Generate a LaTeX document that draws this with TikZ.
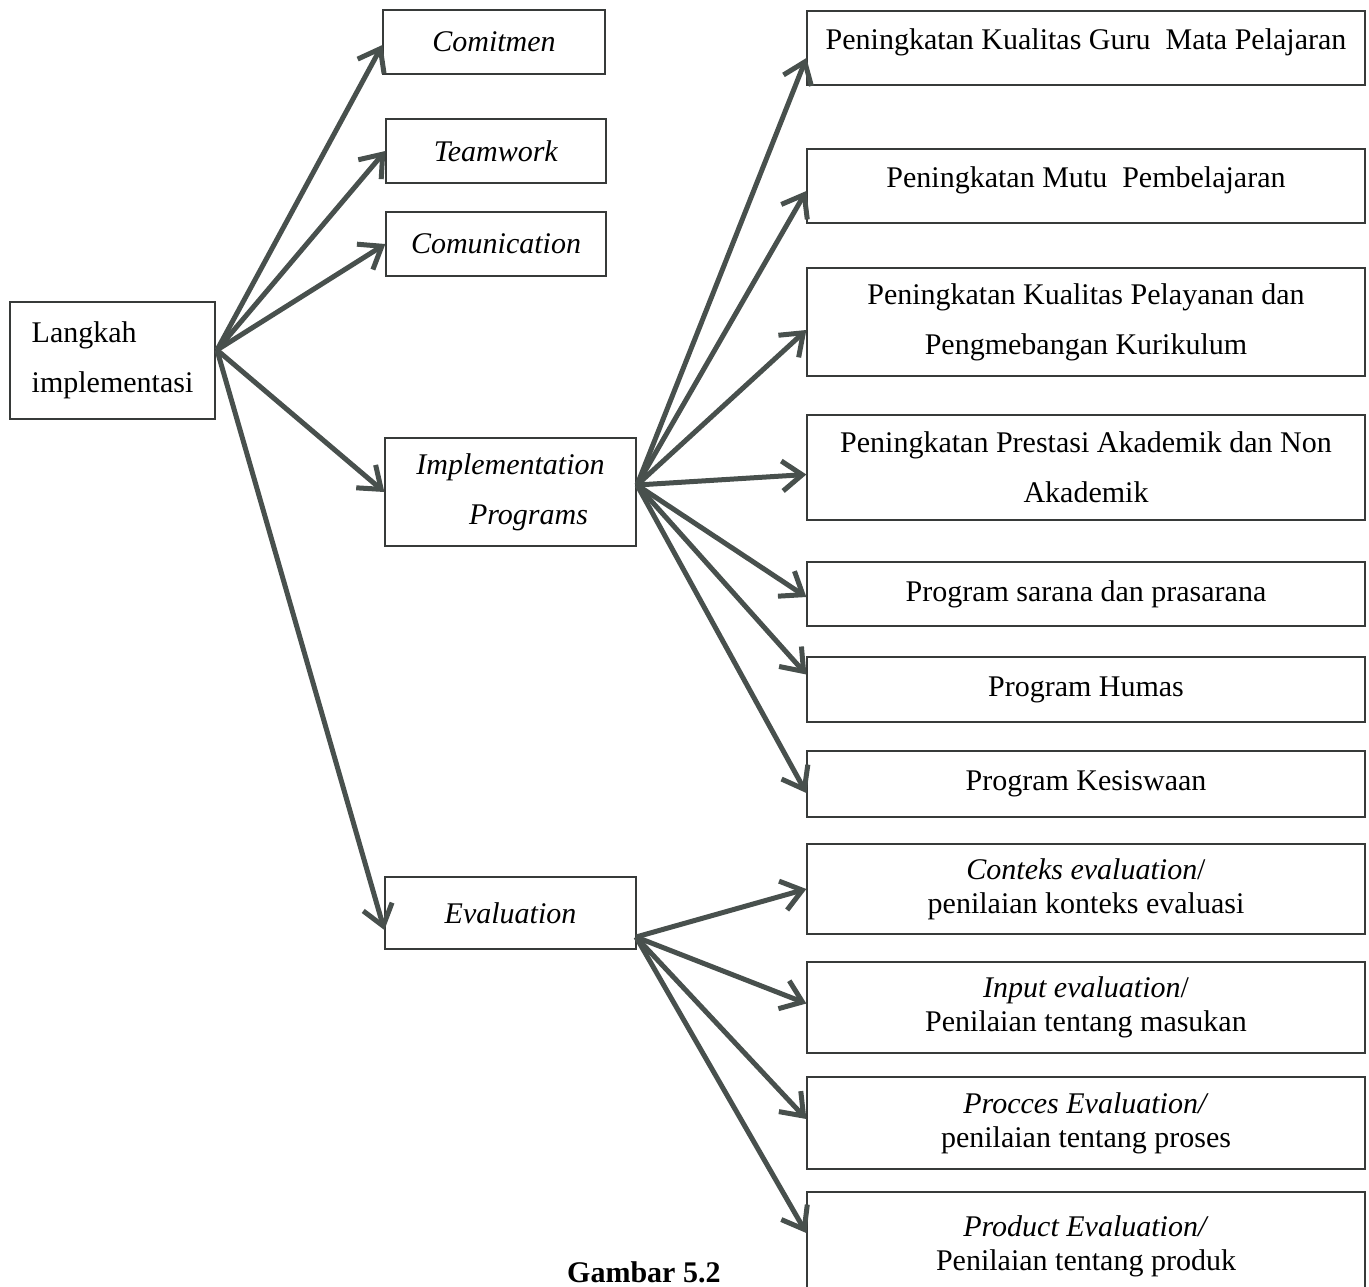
\documentclass[tikz,border=0pt]{standalone}
\usepackage{fontspec}
\setmainfont{Liberation Serif}
\usepackage{tikz}
\usetikzlibrary{arrows.meta,positioning}

\definecolor{arrowgray}{RGB}{72,80,77}
\definecolor{boxgray}{RGB}{55,58,57}

\begin{document}
\begin{tikzpicture}[->,>={Straight Barb[length=20pt,width=30pt]},x=1pt,y=-1pt,
  every edge/.append style={arrowgray,line width=5pt},
  box/.style={draw=boxgray,line width=1.3pt,text=black,align=center,
    font=\fontsize{30}{50}\selectfont,inner sep=0pt},
  evalbox/.style={box,font=\fontsize{30}{34}\selectfont}]

\useasboundingbox (0,0) rectangle (1369,1286);

\node[box,align=left,minimum width=205,minimum height=117] (L) at (112.5,360.5) {Langkah\\implementasi};

\node[box,minimum width=222,minimum height=64] (C1) at (494,42) {\textit{Comitmen}};
\node[box,minimum width=220,minimum height=64] (C2) at (496,151) {\textit{Teamwork}};
\node[box,minimum width=220,minimum height=64] (C3) at (496,244) {\textit{Comunication}};
\node[box,minimum width=251,minimum height=108] (IP) at (510.5,492) {\textit{Implementation}\\\hspace*{36pt}\textit{Programs}};
\node[box,minimum width=251,minimum height=72] (EV) at (510.5,913) {\textit{Evaluation}};

\node[box,minimum width=558,minimum height=74,text depth=17pt] (R1) at (1086,48) {Peningkatan Kualitas Guru\ \ Mata Pelajaran};
\node[box,minimum width=558,minimum height=74,text depth=17pt] (R2) at (1086,186) {Peningkatan Mutu\ \ Pembelajaran};
\node[box,minimum width=558,minimum height=108] (R3) at (1086,322) {Peningkatan Kualitas Pelayanan dan\\Pengmebangan Kurikulum};
\node[box,minimum width=558,minimum height=105] (R4) at (1086,467.5) {Peningkatan Prestasi Akademik dan Non\\Akademik};
\node[box,minimum width=558,minimum height=64] (R5) at (1086,594) {Program sarana dan prasarana};
\node[box,minimum width=558,minimum height=65] (R6) at (1086,689.5) {Program Humas};
\node[box,minimum width=558,minimum height=66] (R7) at (1086,784) {Program Kesiswaan};
\node[evalbox,minimum width=558,minimum height=90] (R8) at (1086,889) {\textit{Conteks evaluation}/\\penilaian konteks evaluasi};
\node[evalbox,minimum width=558,minimum height=91] (R9) at (1086,1007.5) {\textit{Input evaluation}/\\Penilaian tentang masukan};
\node[evalbox,minimum width=558,minimum height=92] (R10) at (1086,1123) {\textit{Procces Evaluation/}\\penilaian tentang proses};
\node[evalbox,minimum width=558,minimum height=108] (R11) at (1086,1246) {\textit{Product Evaluation/}\\Penilaian tentang produk};

\node[text=black,font=\bfseries\fontsize{30}{36}\selectfont,anchor=base west,inner sep=0pt] (cap) at (567,1282) {Gambar 5.2};

\coordinate (Lo) at (217,350);
\coordinate (Io) at (637,485);
\coordinate (Eo) at (636,937);

\path
  (Lo) edge ([yshift=-3pt]C1.west)
  (Lo) edge (C2.west)
  (Lo) edge (C3.west)
  (Lo) edge (IP.west)
  (Lo) edge ([yshift=-17pt]EV.west)

  (Io) edge ([yshift=-10pt]R1.west)
  (Io) edge ([yshift=-5pt]R2.west)
  (Io) edge ([yshift=-8pt]R3.west)
  (Io) edge ([yshift=-7pt]R4.west)
  (Io) edge ([yshift=-3pt]R5.west)
  (Io) edge ([yshift=15pt]R6.west)
  (Io) edge ([yshift=-9pt]R7.west)

  (Eo) edge (R8.west)
  (Eo) edge ([yshift=4pt]R9.west)
  (Eo) edge ([yshift=4pt]R10.west)
  (Eo) edge ([yshift=13pt]R11.west)
;
\end{tikzpicture}
\end{document}
